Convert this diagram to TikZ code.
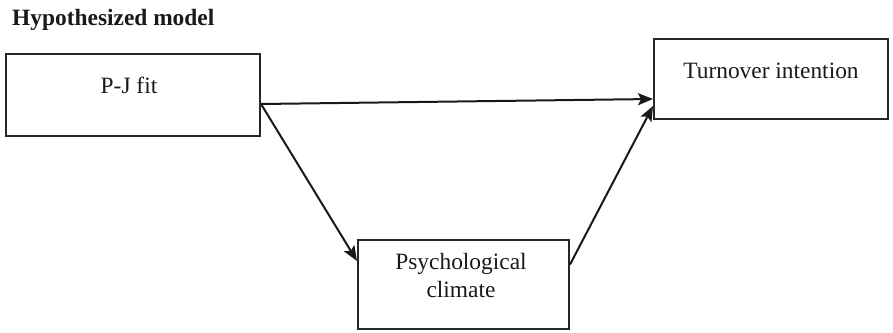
\documentclass[tikz,border=0pt]{standalone}
\usepackage{fontspec}
\setmainfont{Liberation Serif}
\usetikzlibrary{arrows.meta}
\begin{document}
\begin{tikzpicture}[x=1pt,y=-1pt,
  box/.style={draw=black!85,line width=2pt,rectangle,inner sep=0pt,anchor=north west},
  lbl/.style={anchor=base,inner sep=0pt,font=\fontsize{23.4}{28}\selectfont,text=black!90},
  conn/.style={draw=black!90,line width=2pt,-{Stealth[length=15pt,width=12pt,inset=3pt]}}]
\useasboundingbox (0,0) rectangle (893,332);
\node[anchor=base west,inner sep=0pt,font=\fontsize{23.4}{28}\selectfont\bfseries,text=black!90] (title) at (12,25) {Hypothesized model};
\node[box,minimum width=254pt,minimum height=82pt] (pj) at (5,53) {};
\node[box,minimum width=234pt,minimum height=80pt] (to) at (653,38) {};
\node[box,minimum width=211pt,minimum height=89pt] (pc) at (357,239) {};
\node[lbl] (pjt) at (129,93) {P-J fit};
\node[lbl] (tot) at (771,78) {Turnover intention};
\node[lbl] (pct1) at (461,269) {Psychological};
\node[lbl] (pct2) at (461,297) {climate};
\draw[conn] ([yshift=-9pt]pj.east) -- ([yshift=-20pt]to.west);
\draw[conn] ([yshift=-9pt]pj.east) -- ([yshift=23.5pt]pc.west);
\draw[conn] ([yshift=20pt]pc.east) -- ([yshift=-27pt]to.west);
\end{tikzpicture}
\end{document}
